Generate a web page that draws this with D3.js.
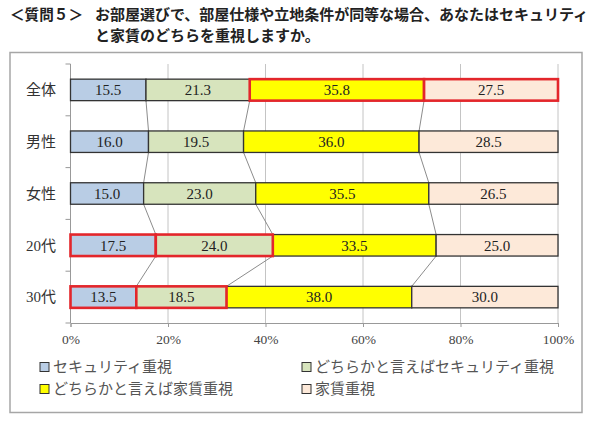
<!DOCTYPE html>
<html>
<head>
<meta charset="utf-8">
<script src="https://cdn.jsdelivr.net/npm/d3@7"></script>
<style>
  body { margin: 0; background: #fff; }
</style>
</head>
<body>
<svg width="600" height="423"></svg>
<script>
// data
var categories = ["全体", "男性", "女性", "20代", "30代"];
var seriesNames = ["セキュリティ重視", "どちらかと言えばセキュリティ重視", "どちらかと言えば家賃重視", "家賃重視"];
var security     = [15.5, 16.0, 15.0, 17.5, 13.5];
var leanSecurity = [21.3, 19.5, 23.0, 24.0, 18.5];
var leanRent     = [35.8, 36.0, 35.5, 33.5, 38.0];
var rent         = [27.5, 28.5, 26.5, 25.0, 30.0];
var tickValues = [0, 20, 40, 60, 80, 100];
// which segments have the red outline: [category index, series index]
var highlighted = [[0, 2], [0, 3], [3, 0], [3, 1], [4, 0], [4, 1]];

var colors = ["#b9cde5", "#d7e4bd", "#ffff00", "#fde9d9"];

var svg = d3.select("svg");
var serif = "'Liberation Serif', 'Noto Sans CJK JP', serif";
var gothic = "'Noto Sans CJK JP', sans-serif";

// title
svg.append("text").attr("x", 10).attr("y", 20)
  .attr("font-family", gothic).attr("font-weight", "bold").attr("font-size", 15).attr("fill", "#222")
  .attr("textLength", 73).attr("lengthAdjust", "spacingAndGlyphs")
  .text("＜質問５＞");
svg.append("text").attr("x", 95).attr("y", 20)
  .attr("font-family", gothic).attr("font-weight", "bold").attr("font-size", 15).attr("fill", "#222")
  .attr("textLength", 493).attr("lengthAdjust", "spacing")
  .text("お部屋選びで、部屋仕様や立地条件が同等な場合、あなたはセキュリティ");
svg.append("text").attr("x", 95).attr("y", 41)
  .attr("font-family", gothic).attr("font-weight", "bold").attr("font-size", 15).attr("fill", "#222")
  .text("と家賃のどちらを重視しますか。");

// chart frame
svg.append("rect").attr("x", 10).attr("y", 52.5).attr("width", 572).attr("height", 360)
  .attr("fill", "#fff").attr("stroke", "#a6a6a6").attr("stroke-width", 1.5);

var x = d3.scaleLinear().domain([0, 100]).range([70.5, 558]);
var y = d3.scaleBand().domain(categories).range([64, 323])
  .paddingInner(0.585).paddingOuter(0.2925);

// stacked data (100% stacked)
var rows = categories.map(function (c, i) {
  var vals = [security[i], leanSecurity[i], leanRent[i], rent[i]];
  var total = d3.sum(vals);
  var acc = 0;
  return vals.map(function (v, s) {
    var seg = { cat: c, ci: i, si: s, v: v, x0: acc / total * 100, x1: (acc + v) / total * 100 };
    acc += v;
    return seg;
  });
});

// grid lines
svg.append("g").selectAll("line").data(tickValues.slice(1)).enter().append("line")
  .attr("x1", d => x(d)).attr("x2", d => x(d))
  .attr("y1", 64).attr("y2", 323)
  .attr("stroke", "#c4c4c4").attr("stroke-width", 1);

// x axis
var xAxis = svg.append("g").attr("transform", "translate(0,323)")
  .call(d3.axisBottom(x).tickValues(tickValues).tickSize(4).tickPadding(7).tickFormat(d => d + "%"));
xAxis.select(".domain").attr("stroke", "#999");
xAxis.selectAll(".tick line").attr("stroke", "#999");
xAxis.selectAll("text").attr("font-family", serif).attr("font-size", 13.5).attr("fill", "#444");

// y axis line and ticks at band boundaries
svg.append("line").attr("x1", x(0)).attr("x2", x(0)).attr("y1", 64).attr("y2", 323)
  .attr("stroke", "#999");
var bounds = d3.range(categories.length + 1).map(i => 64 + i * y.step());
svg.append("g").selectAll("line").data(bounds).enter().append("line")
  .attr("x1", x(0) - 5).attr("x2", x(0)).attr("y1", d => d).attr("y2", d => d)
  .attr("stroke", "#999");

// category labels
svg.append("g").selectAll("text").data(categories).enter().append("text")
  .attr("x", 56).attr("y", d => y(d) + y.bandwidth() / 2)
  .attr("dy", "0.35em").attr("text-anchor", "end")
  .attr("font-family", serif).attr("font-size", 15).attr("fill", "#333")
  .text(d => d);

// connector lines between bars
var connectors = [];
for (var i = 0; i < rows.length - 1; i++) {
  for (var s = 0; s < 3; s++) {
    connectors.push({ a: rows[i][s].x1, b: rows[i + 1][s].x1, y0: y(categories[i]) + y.bandwidth(), y1: y(categories[i + 1]) });
  }
}
svg.append("g").selectAll("line").data(connectors).enter().append("line")
  .attr("x1", d => x(d.a)).attr("x2", d => x(d.b))
  .attr("y1", d => d.y0).attr("y2", d => d.y1)
  .attr("stroke", "#8c8c8c").attr("stroke-width", 1);

// bars
var segs = rows.flat();
function isHi(d) {
  return highlighted.some(h => h[0] === d.ci && h[1] === d.si);
}
var normal = segs.filter(d => !isHi(d));
var hi = segs.filter(isHi);

svg.append("g").selectAll("rect").data(normal).enter().append("rect")
  .attr("x", d => x(d.x0)).attr("width", d => x(d.x1) - x(d.x0))
  .attr("y", d => y(d.cat)).attr("height", y.bandwidth())
  .attr("fill", d => colors[d.si]).attr("stroke", "#333").attr("stroke-width", 1.3);

svg.append("g").selectAll("rect").data(hi).enter().append("rect")
  .attr("x", d => x(d.x0)).attr("width", d => x(d.x1) - x(d.x0))
  .attr("y", d => y(d.cat)).attr("height", y.bandwidth())
  .attr("fill", d => colors[d.si]).attr("stroke", "#e3262b").attr("stroke-width", 2.6);

// value labels
svg.append("g").selectAll("text").data(segs).enter().append("text")
  .attr("x", d => (x(d.x0) + x(d.x1)) / 2).attr("y", d => y(d.cat) + y.bandwidth() / 2)
  .attr("dy", "0.35em").attr("text-anchor", "middle")
  .attr("font-family", serif).attr("font-size", 15).attr("fill", "#222")
  .text(d => d.v.toFixed(1));

// legend
var legendPos = [[40, 367], [302, 367], [40, 389], [302, 389]];
var legend = svg.append("g").selectAll("g").data(seriesNames).enter().append("g")
  .attr("transform", (d, i) => "translate(" + legendPos[i][0] + "," + legendPos[i][1] + ")");
legend.append("rect").attr("x", 0).attr("y", -4.5).attr("width", 9).attr("height", 9)
  .attr("fill", (d, i) => colors[i]).attr("stroke", "#333").attr("stroke-width", 1);
legend.append("text").attr("x", 13).attr("y", 0).attr("dy", "0.36em")
  .attr("font-family", serif).attr("font-size", 15).attr("fill", "#555")
  .text(d => d);
</script>
</body>
</html>
